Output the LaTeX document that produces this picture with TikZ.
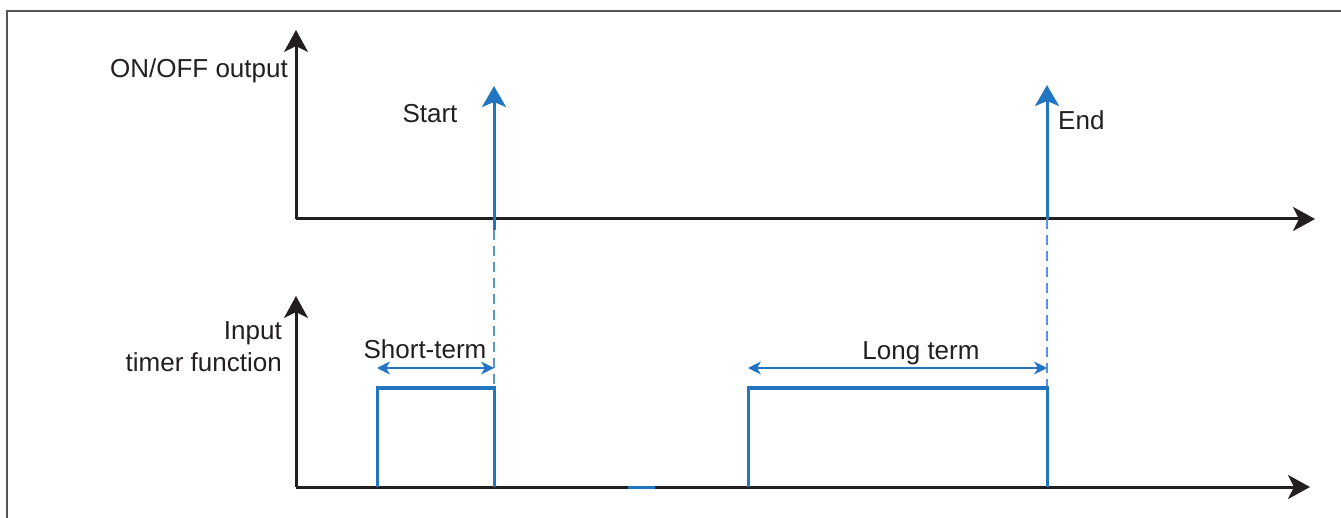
\documentclass[tikz,border=0pt]{standalone}
\usepackage{fontspec}
\setmainfont{Liberation Sans}
\usetikzlibrary{arrows.meta,positioning}
\definecolor{tBlue}{RGB}{33,117,193}
\definecolor{tInk}{RGB}{35,31,32}
\definecolor{tFrame}{RGB}{85,85,85}

\begin{document}
\begin{tikzpicture}[x=1pt,y=-1pt,font=\fontsize{26}{31}\selectfont,
  ax/.style={line width=3pt,tInk,-{Stealth[length=22pt,width=24pt,inset=6pt]}},
  sig/.style={line width=3pt,tBlue},
  ev/.style={sig,-{Stealth[length=21pt,width=24pt,inset=5pt]}},
  dim/.style={line width=1.4pt,tBlue,{Stealth[length=13pt,width=13pt,inset=4pt]}-{Stealth[length=13pt,width=13pt,inset=4pt]}},
  dsh/.style={line width=1.4pt,tBlue!75,dash pattern=on 10pt off 6pt},
  lbl/.style={text=tInk,inner sep=0pt}]
  \useasboundingbox (0,0) rectangle (1341,518);
  \draw[line width=1.4pt,tFrame] (7,11) rectangle (1360,540);
  % axes
  \coordinate (o1) at (296,219);
  \coordinate (y1) at (296,30);
  \coordinate (x1) at (1315,219);
  \coordinate (o2) at (296,487);
  \coordinate (y2) at (296,296);
  \coordinate (x2) at (1310,487);
  \draw[ax] (o1) -- (y1);
  \draw[ax] (o1) -- (x1);
  \draw[ax] (o2) -- (y2);
  \draw[ax] (o2) -- (x2);
  \node[lbl,anchor=base east] (yOut) at (288,78) {ON/OFF output};
  \node[lbl,anchor=base east] (yIn) at (282,340) {Input};
  \node[lbl,anchor=base east] (yTm) at (282,372) {timer function};
  % start / end events
  \coordinate (sLo) at (494,230);
  \coordinate (sHi) at (494,86);
  \coordinate (eLo) at (1047,219);
  \coordinate (eHi) at (1047,85);
  \draw[dsh] (sLo) -- (494,487);
  \draw[dsh] (eLo) -- (1047,487);
  \draw[ev] (sLo) -- (sHi);
  \draw[ev] (eLo) -- (eHi);
  \node[lbl,anchor=base] (st) at (430,123) {Start};
  \node[lbl,anchor=base west] (en) at (1058,130) {End};
  % input pulses
  \coordinate (pA) at (377,487);
  \coordinate (pB) at (494,388);
  \coordinate (pC) at (748,487);
  \coordinate (pD) at (1047,388);
  \draw[sig] (pA) |- (pB) -- (pB |- pA);
  \draw[sig] (pC) |- (pD) -- (pD |- pC);
  \draw[sig] (628,487) -- (655,487);
  % durations
  \draw[dim] (377,368) -- (494,368);
  \draw[dim] (748,368) -- (1047,368);
  \node[lbl,anchor=base] (sh) at (425,359) {Short-term};
  \node[lbl,anchor=base] (lg) at (921,360) {Long term};
\end{tikzpicture}
\end{document}
